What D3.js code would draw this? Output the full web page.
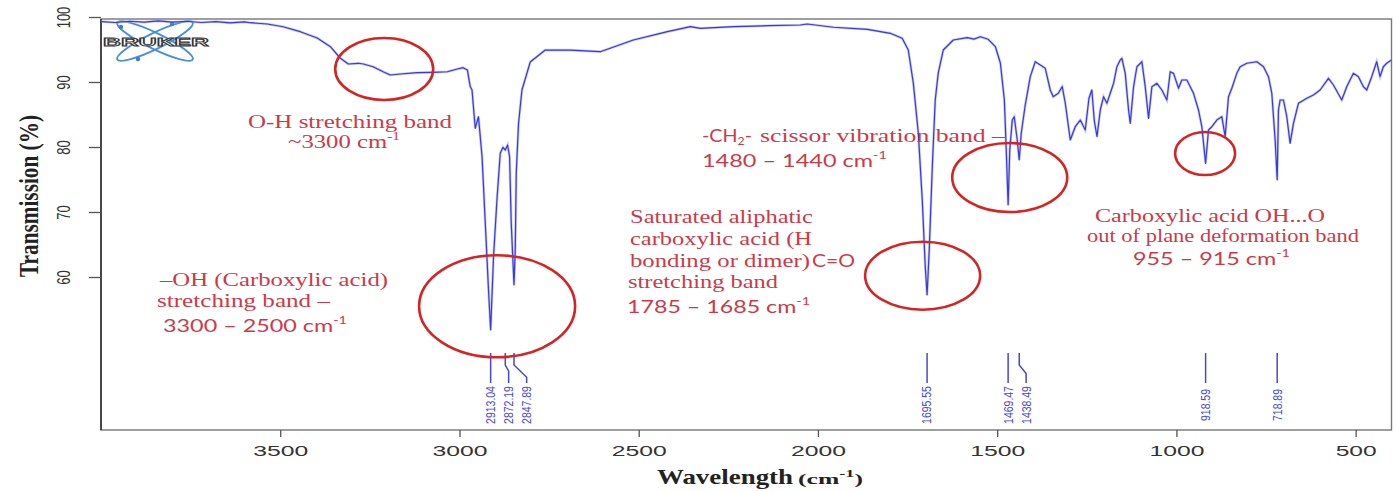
<!DOCTYPE html>
<html><head><meta charset="utf-8">
<script src="https://cdn.jsdelivr.net/npm/d3@7"></script>
<style>html,body{margin:0;padding:0;background:#fff;} svg{display:block;}</style>
</head><body>
<svg id="chart" width="1396" height="491"></svg>
<script>
// ---- data ----
const wavenumber = [4000,3960,3920,3880,3840,3800,3760,3720,3680,3640,3600,3584,3536,3492,3444,3397,3360,3333,3310,3282,3268,3241,3213,3193,3165,3118,3073,3034,3006,2990,2978,2970,2965,2956,2947,2937,2928,2919,2913.04,2905,2895.5,2886.3,2878.7,2872.19,2865.8,2860.2,2855.6,2847.89,2844.4,2841.6,2835.2,2825.7,2802.6,2760.7,2691,2607,2515,2420,2356,2328,2236,2141,2049,2030,1957,1862,1798,1765,1748,1734,1720,1709,1700.6,1695.55,1689.5,1681,1672.8,1664.4,1650.4,1622.5,1583.5,1565,1547,1525,1505,1491,1480,1474.7,1469.47,1464.9,1457.9,1452.4,1444,1438.49,1432.8,1421.7,1407.7,1393.8,1379.8,1365.9,1351.9,1343.6,1329.6,1318.5,1310.1,1296.1,1282.2,1268.2,1254.3,1244,1236,1229,1221.5,1212.4,1203.2,1193.9,1184.6,1175.3,1166.0,1156.7,1152.1,1142.8,1133.5,1128.8,1119.5,1110.2,1096.3,1087.0,1077.7,1068.4,1054.5,1040.6,1026.6,1017.3,1008.0,994.1,984.8,970.9,952.3,938.4,929.1,918.59,910.5,901.2,887.3,873.3,864.0,854.7,845.4,831.5,822.2,803.6,775.7,757.1,743.2,733.9,724.6,718.89,715.3,710.7,701.4,692.1,682.8,673.5,659.6,636.4,617.8,599.2,575.9,562.0,538.8,524.9,506.3,492.3,478.4,469.1,455.2,441.3,432.0,422.7,413.4,400];
const transmission = [99.30,99.15,99.35,99.20,99.40,99.20,99.35,99.15,99.30,99.10,99.25,99.12,98.92,98.50,97.74,96.77,95.43,93.69,92.77,92.88,92.77,92.35,91.58,91.08,91.23,91.43,91.49,91.58,92.00,92.20,91.85,89.30,88.77,82.88,84.66,78.51,68.31,58.00,51.85,63.12,71.85,79.03,79.95,79.54,80.31,78.51,68.31,58.77,64.15,76.00,83.65,88.77,93.08,94.92,94.90,94.66,96.46,97.74,98.51,98.26,98.51,98.66,98.77,98.92,98.42,98.11,97.49,96.72,94.92,89.85,82.15,71.85,61.54,57.23,64.15,76.92,87.23,91.38,94.92,96.46,96.82,96.60,96.97,96.57,95.43,92.88,87.23,79.54,71.08,79.54,84.15,84.66,81.08,78.00,82.15,86.46,90.82,93.12,92.62,92.11,88.77,87.74,88.26,89.28,86.77,81.08,83.12,84.15,82.62,87.50,88.80,84.00,81.60,85.69,87.74,86.72,88.26,89.80,92.35,93.38,93.64,91.33,85.69,83.64,89.28,92.35,93.12,89.28,84.41,89.28,89.80,88.77,87.23,91.58,91.33,89.03,90.31,90.31,88.26,85.69,83.12,77.49,82.62,83.12,84.15,84.66,81.58,87.74,89.03,91.33,92.35,92.88,93.12,92.35,90.82,88.26,81.08,74.92,85.69,87.23,87.23,84.66,80.56,83.64,86.72,87.49,88.00,88.77,90.57,89.54,87.23,89.28,91.33,90.82,89.28,88.77,90.82,93.12,90.82,92.35,92.88,93.38];
const peakWavenumbers = [2913.04, 2872.19, 2847.89, 1695.55, 1469.47, 1438.49, 918.59, 718.89];
const peakLabels = ["2913.04", "2872.19", "2847.89", "1695.55", "1469.47", "1438.49", "918.59", "718.89"];
const xTickValues = [3500, 3000, 2500, 2000, 1500, 1000, 500];
const yTickValues = [60, 70, 80, 90, 100];
const bandCenters = [3210, 2895, 1708, 1465, 920];
const bandLevels = [92.0, 55.5, 60.2, 75.3, 79.0];

// ---- layout ----
const svg = d3.select("#chart");
const L = 101, R = 1391.5, T = 19, B = 430;
const x = d3.scaleLinear().domain([4000, 400]).range([L, R]);
const y = d3.scaleLinear().domain([60, 100]).range([277, 17]);
const SERIF = "'Liberation Serif','Times New Roman',serif";
const SANS = "'Liberation Sans',Arial,sans-serif";
const CAL = "Lato,'Open Sans',sans-serif";
const RED = "#cc3a4a";
const BLUE = "#4646d8";

// box
svg.append("rect").attr("x", L).attr("y", T).attr("width", R - L).attr("height", B - T)
  .attr("fill", "none").attr("stroke", "#777").attr("stroke-width", 1.4);
svg.append("line").attr("x1", L).attr("x2", L).attr("y1", T).attr("y2", B)
  .attr("stroke", "#333").attr("stroke-width", 1.6);

// logo
const logo = svg.append("g");
[26, -26].forEach(a => {
  logo.append("ellipse").attr("cx", 155).attr("cy", 41).attr("rx", 42).attr("ry", 8)
    .attr("transform", `rotate(${a},155,41)`).attr("fill", "none")
    .attr("stroke", "#4a90d9").attr("stroke-width", 2);
});
[[138, 59], [172, 24], [121, 27]].forEach(p => logo.append("circle").attr("cx", p[0]).attr("cy", p[1]).attr("r", 2.2).attr("fill", "#3b7fc8"));
logo.append("text").attr("x", 103).attr("y", 46).attr("font-family", SANS).attr("font-weight", "bold")
  .attr("font-size", 11).attr("fill", "#fff").attr("stroke", "#333").attr("stroke-width", 0.8)
  .attr("textLength", 106).attr("lengthAdjust", "spacingAndGlyphs").text("BRUKER");

// x axis
const xa = svg.append("g").attr("transform", `translate(0,${B})`)
  .call(d3.axisBottom(x).tickValues(xTickValues).tickSize(7).tickSizeOuter(0).tickFormat(d3.format("d")));
xa.select(".domain").remove();
xa.selectAll("line").attr("stroke", "#555").attr("stroke-width", 1.3);
xa.selectAll("text").attr("y", 26).attr("dy", 0).attr("font-family", SANS).attr("font-size", 14)
  .attr("fill", "#333").attr("textLength", d => d >= 1000 ? 55 : 41).attr("lengthAdjust", "spacingAndGlyphs");

// y axis
const ya = svg.append("g").attr("transform", `translate(${L},0)`)
  .call(d3.axisLeft(y).tickValues(yTickValues).tickSize(12).tickSizeOuter(0));
ya.select(".domain").remove();
ya.selectAll("line").attr("stroke", "#555").attr("stroke-width", 1.3);
ya.selectAll("text").attr("x", null).attr("dy", null).attr("text-anchor", "middle")
  .attr("transform", "translate(-31,0) scale(1.45,1) rotate(-90)")
  .attr("font-family", SANS).attr("font-size", 13).attr("fill", "#333");

// axis titles
svg.append("text").attr("transform", "translate(38,196) scale(1.3,1) rotate(-90)")
  .attr("text-anchor", "middle").attr("font-family", SERIF).attr("font-weight", "bold")
  .attr("font-size", 21).attr("fill", "#222").attr("textLength", 162).attr("lengthAdjust", "spacingAndGlyphs")
  .text("Transmission (%)");
svg.append("text").attr("x", 657).attr("y", 484).attr("font-family", SERIF).attr("font-weight", "bold")
  .attr("font-size", 21).attr("fill", "#222").attr("textLength", 136).attr("lengthAdjust", "spacingAndGlyphs")
  .text("Wavelength");
const unit = svg.append("text").attr("x", 798).attr("y", 484).attr("font-family", SERIF).attr("font-weight", "bold")
  .attr("font-size", 14).attr("fill", "#222").attr("textLength", 65).attr("lengthAdjust", "spacingAndGlyphs");
unit.append("tspan").text("(cm");
unit.append("tspan").attr("font-size", 10).attr("dy", -7).text("-1");
unit.append("tspan").attr("dy", 7).text(")");

// spectrum
const pts = d3.zip(wavenumber, transmission);
svg.append("path").datum(pts)
  .attr("d", d3.line().x(d => x(d[0])).y(d => y(d[1])))
  .attr("fill", "none").attr("stroke", "#9a9af0").attr("stroke-width", 2.6).attr("opacity", 0.55);
svg.append("path").datum(pts)
  .attr("d", d3.line().x(d => x(d[0])).y(d => y(d[1])))
  .attr("fill", "none").attr("stroke", "#3a3ad4").attr("stroke-width", 1.2).attr("stroke-linejoin", "round");

// peak markers (spread labels so they don't overlap)
const minGap = 18;
let prev = -Infinity;
const peaks = peakWavenumbers.map((w, i) => {
  const px = x(w);
  const lx = Math.max(px, prev + minGap);
  prev = lx;
  return { px, lx, label: peakLabels[i] };
});
const pk = svg.append("g");
peaks.forEach(p => {
  const shift = p.lx - p.px;
  let d;
  if (shift < 0.5) d = `M${p.px},353V383`;
  else {
    const yb = 365 + 4 + shift * 0.65;
    d = `M${p.px},353V365L${p.lx},${yb}V383`;
  }
  pk.append("path").attr("d", d).attr("fill", "none").attr("stroke", BLUE).attr("stroke-width", 1.5);
  pk.append("text").attr("transform", `translate(${p.lx + 4.4},405) scale(1.2,1) rotate(-90)`)
    .attr("text-anchor", "middle").attr("font-family", SANS).attr("font-size", 10.5)
    .attr("fill", BLUE).text(p.label);
});

// band ellipses
const radii = [[49, 31], [78, 51], [57.5, 34], [57.5, 34.5], [30, 21.5]];
bandCenters.forEach((w, i) => {
  svg.append("ellipse").attr("cx", x(w)).attr("cy", y(bandLevels[i]))
    .attr("rx", radii[i][0]).attr("ry", radii[i][1])
    .attr("fill", "none").attr("stroke", "#d42424").attr("stroke-width", 2.6);
});

// annotations
const notes = [
  { x: 248, y: 128, len: 204, size: 19, font: SERIF, parts: [["O-H stretching band"]] },
  { x: 288, y: 148, len: 112, size: 19, font: SERIF, parts: [["~3300 cm"], ["-1", "sup"]] },
  { x: 160, y: 286, len: 228, size: 18, font: SERIF, parts: [["\u2013OH (Carboxylic acid)"]] },
  { x: 157, y: 307, len: 173, size: 18, font: SERIF, parts: [["stretching band  \u2013"]] },
  { x: 163, y: 332, len: 184, size: 18, font: CAL, parts: [["3300 \u2013 2500 cm"], ["-1", "sup"]] },
  { x: 702, y: 142, len: 50, size: 18, font: CAL, parts: [["-CH"], ["2", "sub"], ["-", "back"]] },
  { x: 760, y: 142, len: 245, size: 19, font: SERIF, parts: [["scissor vibration band  \u2013"]] },
  { x: 702, y: 167, len: 185, size: 18, font: CAL, parts: [["1480 \u2013 1440 cm"], ["-1", "sup"]] },
  { x: 630, y: 223, len: 183, size: 18, font: SERIF, parts: [["Saturated aliphatic"]] },
  { x: 630, y: 245, len: 182, size: 18, font: SERIF, parts: [["carboxylic acid (H"]] },
  { x: 630, y: 267, len: 180, size: 18, font: SERIF, parts: [["bonding or dimer)"]] },
  { x: 812, y: 267, len: 43, size: 17, font: CAL, parts: [["C=O"]] },
  { x: 628, y: 288, len: 150, size: 18, font: SERIF, parts: [["stretching band"]] },
  { x: 627, y: 313, len: 183, size: 18, font: CAL, parts: [["1785 \u2013 1685 cm"], ["-1", "sup"]] },
  { x: 1095, y: 222, len: 230, size: 18, font: SERIF, parts: [["Carboxylic acid OH...O"]] },
  { x: 1087, y: 242, len: 272, size: 18, font: SERIF, parts: [["out of plane deformation band"]] },
  { x: 1133, y: 265, len: 157, size: 18, font: CAL, parts: [["955 \u2013 915 cm"], ["-1", "sup"]] }
];
notes.forEach(n => {
  const t = svg.append("text").attr("x", n.x).attr("y", n.y).attr("font-family", n.font)
    .attr("font-size", n.size).attr("fill", RED)
    .attr("textLength", n.len).attr("lengthAdjust", "spacingAndGlyphs");
  n.parts.forEach(p => {
    const s = t.append("tspan").text(p[0]);
    if (p[1] === "sup") s.attr("font-size", n.size * 0.62).attr("dy", -n.size * 0.42);
    if (p[1] === "sub") s.attr("font-size", n.size * 0.62).attr("dy", n.size * 0.18);
    if (p[1] === "back") s.attr("dy", -n.size * 0.18);
  });
});
</script>
</body></html>
